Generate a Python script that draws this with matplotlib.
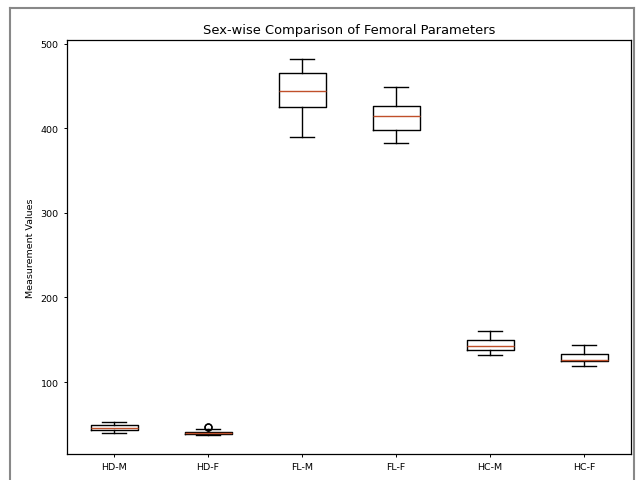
# Box plot: sex-wise comparison of femoral parameters
import matplotlib
matplotlib.use("Agg")
import matplotlib.pyplot as plt
from matplotlib.lines import Line2D

# Values
labels = ['HD-M', 'HD-F', 'FL-M', 'FL-F', 'HC-M', 'HC-F']
whislo = [40.4, 37.3, 390, 382, 131.8, 118.8]
q1 = [43.5, 38.3, 425.5, 398, 137.6, 124.7]
med = [46.0, 40.0, 444, 415, 142.5, 126.0]
q3 = [49.0, 41.3, 465, 426, 149.4, 133.0]
whishi = [52.6, 44.5, 482, 449, 160, 143.5]
fliers = [[], [46.5, 47.5], [], [], [], []]

stats = []
for i, lab in enumerate(labels):
    stats.append(dict(label=lab, whislo=whislo[i], q1=q1[i], med=med[i],
                      q3=q3[i], whishi=whishi[i], fliers=fliers[i]))

fig = plt.figure(figsize=(6.42, 4.81), dpi=100)
ax = fig.add_axes([67 / 642, 1 - 455 / 481, 564 / 642, 414 / 481])

ax.bxp(stats,
       boxprops=dict(linewidth=1.0),
       whiskerprops=dict(linewidth=1.0),
       capprops=dict(linewidth=1.0),
       medianprops=dict(color='#c0502a', linewidth=1.0),
       flierprops=dict(markersize=5, markeredgewidth=1.0))

ax.set_title("Sex-wise Comparison of Femoral Parameters", fontsize=9.4, pad=5)
ax.set_ylabel("Measurement Values", fontsize=6.8, labelpad=4)
ax.set_yticks([100, 200, 300, 400, 500])
ax.tick_params(labelsize=6.8, length=2.5, width=0.7)
for s in ax.spines.values():
    s.set_linewidth(0.9)

# screenshot frame around the figure
gray = '#888888'
fig.add_artist(Line2D([10 / 642, 10 / 642], [0, 1 - 9 / 481], color=gray, lw=1.5))
fig.add_artist(Line2D([10 / 642, 634 / 642], [1 - 9 / 481, 1 - 9 / 481], color=gray, lw=1.5))
fig.add_artist(Line2D([634 / 642, 634 / 642], [0, 1 - 9 / 481], color=gray, lw=1.5))

fig.savefig("out.png", dpi=100)
